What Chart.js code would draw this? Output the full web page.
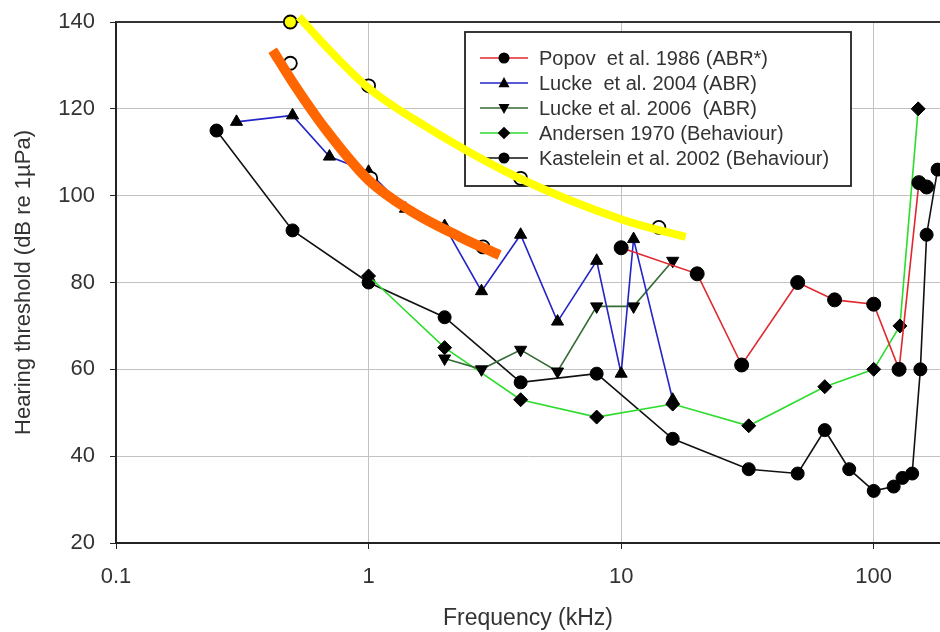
<!DOCTYPE html>
<html>
<head>
<meta charset="utf-8">
<script src="https://cdn.jsdelivr.net/npm/chart.js@4"></script>
<style>
  html, body { margin: 0; padding: 0; background: #fff; overflow: hidden; }
  #wrap { position: relative; width: 940px; height: 632px; }
</style>
</head>
<body>
<div id="wrap"><canvas id="chart"></canvas></div>
<script>
// Hearing threshold data, frequency in kHz, threshold in dB re 1µPa
const popovKHz = [10, 20, 30, 50, 70, 100, 126, 151, 162];
const popovDb  = [88, 82, 61, 80, 76, 75, 60, 103, 102];

const lucke04KHz = [0.3, 0.5, 0.7, 1, 1.4, 2, 2.8, 4, 5.6, 8, 10, 11.2, 16];
const lucke04Db  = [117, 118.5, 109, 105.5, 97, 93, 78, 91, 71, 85, 59, 90, 53];

const lucke06KHz = [2, 2.8, 4, 5.6, 8, 11.2, 16];
const lucke06Db  = [62.5, 60, 64.5, 59.5, 74.5, 74.5, 85];

const andersenKHz = [1, 2, 4, 8, 16, 32, 64, 100, 127, 150];
const andersenDb  = [81.5, 65, 53, 49, 52, 47, 56, 60, 70, 120];

const kasteleinKHz = [0.25, 0.5, 1, 2, 4, 8, 16, 32, 50, 64, 80, 100, 120, 130, 142, 153, 162, 179];
const kasteleinDb  = [115, 92, 80, 72, 57, 59, 44, 37, 36, 46, 37, 32, 33, 35, 36, 60, 91, 106];

// hand-drawn overlay curves and their circled points
const yellowKHz = [0.53, 0.68, 1, 1.69, 3.8, 10.2, 18];
const yellowDb  = [141.2, 134.3, 124.8, 115.9, 104.5, 94.4, 90.5];
const yellowDotKHz = [0.49, 1, 4, 14.1];
const yellowDotDb  = [140, 125.3, 104, 92.7];

const orangeKHz = [0.417, 0.5, 0.68, 1, 1.45, 2.3, 3.3];
const orangeDb  = [133.5, 126.2, 115.1, 103.6, 96.7, 90.5, 86.3];
const orangeDotKHz = [0.49, 1.02, 2.84];
const orangeDotDb  = [130.5, 104, 88.2];

const xTicks = [0.1, 1, 10, 100];

const FONT = '"Liberation Sans", Arial, sans-serif';
Chart.defaults.font.family = FONT;

const pts = (xs, ys) => xs.map((x, i) => ({ x: x, y: ys[i] }));

function seriesSet(label, xs, ys, color, style, rotation, radius, order) {
    return {
        label: label,
        inLegend: true,
        data: pts(xs, ys),
        borderColor: color,
        borderWidth: 1.6,
        pointStyle: style,
        pointRotation: rotation,
        pointRadius: radius,
        pointBackgroundColor: '#000',
        pointBorderColor: '#000',
        pointBorderWidth: 1,
        tension: 0,
        clip: false,
        order: order
    };
}

function drawMarker(ctx, style, rotation, x, y, r) {
    ctx.save();
    ctx.translate(x, y);
    ctx.rotate(rotation * Math.PI / 180);
    ctx.fillStyle = '#000';
    ctx.beginPath();
    if (style === 'circle') {
        ctx.arc(0, 0, r, 0, Math.PI * 2);
    } else if (style === 'triangle') {
        ctx.moveTo(0, -r * 1.1);
        ctx.lineTo(r, r * 0.75);
        ctx.lineTo(-r, r * 0.75);
        ctx.closePath();
    } else {
        ctx.moveTo(0, -r * 1.15);
        ctx.lineTo(r * 1.15, 0);
        ctx.lineTo(0, r * 1.15);
        ctx.lineTo(-r * 1.15, 0);
        ctx.closePath();
    }
    ctx.fill();
    ctx.restore();
}

// boxed legend inside the plot + dark top frame line
const legendBox = {
    id: 'legendBox',
    beforeDatasetsDraw(chart) {
        const { ctx, chartArea } = chart;
        ctx.save();
        ctx.strokeStyle = '#333';
        ctx.lineWidth = 2;
        ctx.beginPath();
        ctx.moveTo(chartArea.left, chartArea.top);
        ctx.lineTo(chartArea.right, chartArea.top);
        ctx.stroke();

        const x0 = chartArea.left + 349, y0 = chartArea.top + 10, w = 386, h = 154;
        ctx.fillStyle = '#fff';
        ctx.fillRect(x0, y0, w, h);
        ctx.strokeStyle = '#222';
        ctx.lineWidth = 1.8;
        ctx.strokeRect(x0, y0, w, h);

        ctx.font = '20px ' + FONT;
        ctx.textBaseline = 'middle';
        chart.data.datasets.filter(d => d.inLegend).forEach((d, i) => {
            const y = y0 + 26 + i * 25;
            ctx.strokeStyle = d.borderColor;
            ctx.lineWidth = 1.6;
            ctx.beginPath();
            ctx.moveTo(x0 + 15, y);
            ctx.lineTo(x0 + 63, y);
            ctx.stroke();
            drawMarker(ctx, d.pointStyle, d.pointRotation || 0, x0 + 39, y, 5.5);
            ctx.fillStyle = '#333';
            ctx.fillText(d.label, x0 + 74, y + 1);
        });
        ctx.restore();
    }
};

const datasets = [
    {
        data: pts(yellowKHz, yellowDb),
        borderColor: '#ffff00', borderWidth: 8, borderCapStyle: 'butt',
        pointRadius: 0, cubicInterpolationMode: 'monotone', clip: false, order: 0
    },
    {
        data: pts(orangeKHz, orangeDb),
        borderColor: '#ff6600', borderWidth: 10, borderCapStyle: 'butt',
        pointRadius: 0, cubicInterpolationMode: 'monotone', clip: false, order: 1
    },
    {
        data: pts(yellowDotKHz, yellowDotDb), showLine: false,
        pointRadius: 6.5, pointBorderWidth: 1.8, pointBorderColor: '#000',
        pointBackgroundColor: ['#ffff00', '#fff', '#fff', '#fff'], clip: false, order: 2
    },
    {
        data: pts(orangeDotKHz, orangeDotDb), showLine: false,
        pointRadius: 6.5, pointBorderWidth: 1.8, pointBorderColor: '#000',
        pointBackgroundColor: '#fff', clip: false, order: 2
    },
    seriesSet('Popov  et al. 1986 (ABR*)', popovKHz, popovDb, '#e0282e', 'circle', 0, 7, 3),
    seriesSet('Lucke  et al. 2004 (ABR)', lucke04KHz, lucke04Db, '#2424c8', 'triangle', 0, 7, 4),
    seriesSet('Lucke et al. 2006  (ABR)', lucke06KHz, lucke06Db, '#356b35', 'triangle', 180, 7, 5),
    seriesSet('Andersen 1970 (Behaviour)', andersenKHz, andersenDb, '#2edc2e', 'rectRot', 0, 7, 6),
    seriesSet('Kastelein et al. 2002 (Behaviour)', kasteleinKHz, kasteleinDb, '#111', 'circle', 0, 6.5, 7)
];

new Chart(document.getElementById('chart'), {
    type: 'line',
    data: { datasets: datasets },
    options: {
        responsive: true,
        maintainAspectRatio: false,
        animation: false,
        events: [],
        layout: { autoPadding: false, padding: { top: 22, right: 0, left: 0, bottom: 0 } },
        plugins: { legend: { display: false }, tooltip: { enabled: false } },
        scales: {
            x: {
                type: 'logarithmic',
                min: 0.1,
                max: 183,
                afterBuildTicks: s => { s.ticks = xTicks.map(v => ({ value: v })); },
                afterFit: s => { s.height = 89; s.paddingRight = 0; s.paddingLeft = 0; },
                grid: { color: '#c2c2c2', lineWidth: 1, tickLength: 6, tickColor: '#222' },
                border: { color: '#222', width: 2 },
                ticks: {
                    callback: v => String(v),
                    font: { size: 22 }, color: '#333', padding: 15,
                    maxRotation: 0, autoSkip: false
                },
                title: {
                    display: true, text: 'Frequency (kHz)',
                    font: { size: 23 }, color: '#333', padding: { top: 0, bottom: 0 }
                }
            },
            y: {
                min: 20,
                max: 140,
                afterFit: s => { s.width = 116; s.paddingTop = 0; s.paddingBottom = 0; },
                grid: { color: '#c2c2c2', lineWidth: 1, tickLength: 6, tickColor: '#222' },
                border: { color: '#222', width: 2 },
                ticks: { stepSize: 20, font: { size: 22 }, color: '#333', padding: 15 },
                title: {
                    display: true, text: 'Hearing threshold (dB re 1µPa)',
                    font: { size: 22 }, color: '#333', padding: { top: 11, bottom: 0 }
                }
            }
        }
    },
    plugins: [legendBox]
});
</script>
</body>
</html>
